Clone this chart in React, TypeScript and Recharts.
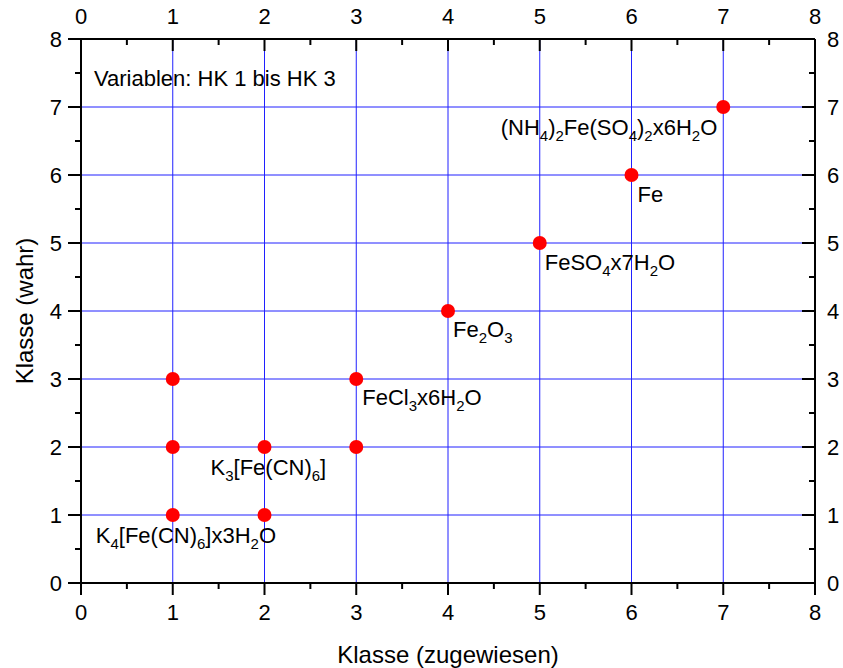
import React from 'react';
import {
  ReferenceDot,
  ReferenceLine,
  Scatter,
  ScatterChart,
  XAxis,
  YAxis,
} from 'recharts';

// assigned class vs. true class for each sample
const assignedClass = [1, 1, 1, 2, 2, 3, 3, 4, 5, 6, 7];
const trueClass = [1, 2, 3, 1, 2, 2, 3, 4, 5, 6, 7];

// axis ticks (majors get a number, halves are minor marks)
const axisTicks = [0, 0.5, 1, 1.5, 2, 2.5, 3, 3.5, 4, 4.5, 5, 5.5, 6, 6.5, 7, 7.5, 8];
const gridValues = [1, 2, 3, 4, 5, 6, 7];

// compound names ("_" marks a subscript digit) and the point each one names
const compoundNames = [
  'K_4[Fe(CN)_6]x3H_2O',
  'K_3[Fe(CN)_6]',
  'FeCl_3x6H_2O',
  'Fe_2O_3',
  'FeSO_4x7H_2O',
  'Fe',
  '(NH_4)_2Fe(SO_4)_2x6H_2O',
];
const nameAssigned = [1, 2, 3, 4, 5, 6, 7];
const nameTrue = [1, 2, 3, 4, 5, 6, 7];

const noteText = 'Variablen: HK 1 bis HK 3';

// pixel offsets of each name from its point
const nameOffsets = [
  { dx: -77, dy: 28, anchor: 'start' },
  { dx: -54, dy: 28, anchor: 'start' },
  { dx: 6, dy: 26, anchor: 'start' },
  { dx: 5, dy: 26, anchor: 'start' },
  { dx: 5, dy: 27, anchor: 'start' },
  { dx: 6, dy: 27, anchor: 'start' },
  { dx: -6, dy: 28, anchor: 'end' },
];

const points = assignedClass.map((x, i) => ({ x, y: trueClass[i] }));

const FONT = '"Liberation Sans", Arial, sans-serif';
const GRID = '#2020ff';
const TICK_FS = 22;
const LABEL_FS = 22;
const SUB_FS = 15;
const SUB_DY = 6;

const isMajor = (v: number) => Number.isInteger(v);

function splitFormula(s: string) {
  const parts: { text: string; sub: boolean }[] = [];
  for (let i = 0; i < s.length; i++) {
    if (s[i] === '_') {
      parts.push({ text: s[i + 1], sub: true });
      i++;
    } else {
      const last = parts[parts.length - 1];
      if (last && !last.sub) last.text += s[i];
      else parts.push({ text: s[i], sub: false });
    }
  }
  return parts;
}

function FormulaLabel(props: any) {
  const { viewBox, formula, dx, dy, anchor } = props;
  const x = viewBox.x + dx;
  const y = viewBox.y + dy;
  let shifted = false;
  return (
    <text x={x} y={y} textAnchor={anchor} fontSize={LABEL_FS} fontFamily={FONT} fill="#000">
      {splitFormula(formula).map((p, i) => {
        let shift = 0;
        if (p.sub && !shifted) {
          shift = SUB_DY;
          shifted = true;
        } else if (!p.sub && shifted) {
          shift = -SUB_DY;
          shifted = false;
        }
        return (
          <tspan key={i} dy={shift} fontSize={p.sub ? SUB_FS : LABEL_FS}>
            {p.text}
          </tspan>
        );
      })}
    </text>
  );
}

const tickText = {
  fontSize: TICK_FS,
  fontFamily: FONT,
  fill: '#000',
};

function BottomTick({ x, y, payload }: any) {
  const major = isMajor(payload.value);
  return (
    <g>
      <line x1={x} x2={x} y1={y} y2={y + (major ? 12 : 6)} stroke="#000" strokeWidth={2} />
      {major && (
        <text x={x} y={y + 37} textAnchor="middle" {...tickText}>
          {payload.value}
        </text>
      )}
    </g>
  );
}

function TopTick({ x, y, payload }: any) {
  const major = isMajor(payload.value);
  return (
    <g>
      <line x1={x} x2={x} y1={y} y2={y + (major ? 12 : 6)} stroke="#000" strokeWidth={2} />
      {major && (
        <text x={x} y={y - 15} textAnchor="middle" {...tickText}>
          {payload.value}
        </text>
      )}
    </g>
  );
}

function LeftTick({ x, y, payload }: any) {
  const major = isMajor(payload.value);
  return (
    <g>
      <line x1={x - (major ? 13 : 6)} x2={x} y1={y} y2={y} stroke="#000" strokeWidth={2} />
      {major && (
        <text x={x - 19} y={y + 8} textAnchor="end" {...tickText}>
          {payload.value}
        </text>
      )}
    </g>
  );
}

function RightTick({ x, y, payload }: any) {
  const major = isMajor(payload.value);
  return (
    <g>
      <line x1={x - (major ? 13 : 6)} x2={x} y1={y} y2={y} stroke="#000" strokeWidth={2} />
      {major && (
        <text x={x + 12} y={y + 8} textAnchor="start" {...tickText}>
          {payload.value}
        </text>
      )}
    </g>
  );
}

const axisCommon = {
  type: 'number' as const,
  domain: [0, 8],
  ticks: axisTicks,
  allowDataOverflow: true,
  tickLine: false,
  tickSize: 0,
  tickMargin: 0,
  interval: 0 as const,
  axisLine: { stroke: '#000', strokeWidth: 2 },
};

export default function App() {
  return (
    <div style={{ position: 'absolute', left: 0, top: 0, background: '#fff' }}>
      <ScatterChart
        width={843}
        height={668}
        margin={{ top: 38, right: 27, bottom: 84, left: 80 }}
      >
        <XAxis {...axisCommon} dataKey="x" xAxisId="bottom" orientation="bottom" height={1} tick={<BottomTick />} />
        <XAxis {...axisCommon} dataKey="x" xAxisId="top" orientation="top" height={1} tick={<TopTick />} />
        <YAxis {...axisCommon} dataKey="y" yAxisId="left" orientation="left" width={1} tick={<LeftTick />} />
        <YAxis {...axisCommon} dataKey="y" yAxisId="right" orientation="right" width={1} tick={<RightTick />} />

        {gridValues.map((v) => (
          <ReferenceLine key={`v${v}`} x={v} xAxisId="bottom" yAxisId="left" stroke={GRID} strokeWidth={1} />
        ))}
        {gridValues.map((v) => (
          <ReferenceLine key={`h${v}`} y={v} xAxisId="bottom" yAxisId="left" stroke={GRID} strokeWidth={1} />
        ))}

        <Scatter
          data={points}
          xAxisId="bottom"
          yAxisId="left"
          fill="#ff0000"
          isAnimationActive={false}
          shape={(p: any) => <circle cx={p.cx} cy={p.cy} r={7} fill="#ff0000" />}
        />

        {compoundNames.map((name, i) => (
          <ReferenceDot
            key={name}
            x={nameAssigned[i]}
            y={nameTrue[i]}
            xAxisId="bottom"
            yAxisId="left"
            r={0}
            fill="none"
            stroke="none"
            ifOverflow="visible"
            label={<FormulaLabel formula={name} {...nameOffsets[i]} />}
          />
        ))}
      </ScatterChart>

      <svg width={843} height={668} style={{ position: 'absolute', left: 0, top: 0, pointerEvents: 'none' }}>
        <text x={94} y={86} fontSize={LABEL_FS} fontFamily={FONT} fill="#000">
          {noteText}
        </text>
        <text x={448} y={663} textAnchor="middle" fontSize={24} fontFamily={FONT} fill="#000">
          Klasse (zugewiesen)
        </text>
        <text
          x={33}
          y={311}
          transform="rotate(-90 33 311)"
          textAnchor="middle"
          fontSize={24}
          fontFamily={FONT}
          fill="#000"
        >
          Klasse (wahr)
        </text>
      </svg>
    </div>
  );
}
